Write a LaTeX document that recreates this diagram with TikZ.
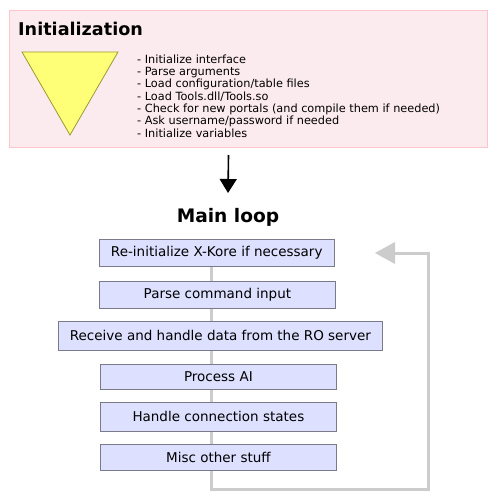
\documentclass[tikz,border=0pt]{standalone}
\usepackage{fontspec}
\setmainfont{DejaVu Sans}
\usetikzlibrary{arrows.meta}
\definecolor{initfill}{HTML}{FCEBEE}
\definecolor{initdraw}{HTML}{FFC4CC}
\definecolor{trifill}{HTML}{FFFF77}
\definecolor{tridraw}{HTML}{999933}
\definecolor{boxfill}{HTML}{DDE0FF}
\definecolor{boxdraw}{HTML}{7A7A8A}
\definecolor{loopgray}{HTML}{CCCCCC}
\tikzset{
  stepbox/.style={draw=boxdraw, fill=boxfill, line width=0.8pt, inner sep=0pt,
    font=\fontsize{13.5}{15}\selectfont, anchor=north west},
  looppath/.style={draw=loopgray, line width=3pt},
}
\begin{document}
\begin{tikzpicture}[x=1pt,y=-1pt]
\useasboundingbox (0,0) rectangle (496,500);
% Initialization panel
\node[draw=initdraw, fill=initfill, line width=0.8pt, minimum width=478pt, minimum height=137pt, anchor=north west, inner sep=0pt] (init) at (9,10) {};
\node[font=\fontsize{17.6}{20}\selectfont\bfseries, anchor=base west, inner sep=0pt] (inittitle) at (18,36) {Initialization};
\draw[fill=trifill, draw=tridraw, line width=0.8pt] (22,52) -- (118,52) -- (70,135) -- cycle;
\node[anchor=north west, inner sep=0pt, align=left, font=\fontsize{11.3}{12.33}\selectfont] (steps) at (137,54.5) {%
- Initialize interface\\
- Parse arguments\\
- Load configuration/table files\\
- Load Tools.dll/Tools.so\\
- Check for new portals (and compile them if needed)\\
- Ask username/password if needed\\
- Initialize variables};
% arrow
\coordinate (a1) at (228.5,155);
\node[font=\fontsize{18.6}{21}\selectfont\bfseries, inner sep=0pt] (mainloop) at (228,217.5) {Main loop};
\draw[line width=1.6pt, -{Triangle[width=17pt,length=14pt]}] (a1) -- (mainloop.north |- 0,193);
% loop line behind boxes
\coordinate (ltop) at (211.7,266);
\coordinate (lbot) at (211.7,489);
\coordinate (lright) at (428,489);
\coordinate (lrt) at (428,253);
\coordinate (ltip) at (375,253);
\draw[looppath] (ltop) -- (lbot) -- (lright) -- (lrt) -- (395,253);
\fill[loopgray] (ltip) -- (395,242) -- (395,264) -- cycle;
% boxes
\node[stepbox, minimum width=235.3pt, minimum height=27pt] (b1) at (98.7,239) {Re-initialize X-Kore if necessary};
\node[stepbox, minimum width=236pt, minimum height=27pt] (b2) at (99,281) {Parse command input};
\node[stepbox, minimum width=324pt, minimum height=29pt] (b3) at (58,321) {Receive and handle data from the RO server};
\node[stepbox, minimum width=236pt, minimum height=25pt] (b4) at (100,364) {Process AI};
\node[stepbox, minimum width=236pt, minimum height=29pt] (b5) at (100,402) {Handle connection states};
\node[stepbox, minimum width=236pt, minimum height=26pt] (b6) at (100,444) {Misc other stuff};
\end{tikzpicture}
\end{document}
